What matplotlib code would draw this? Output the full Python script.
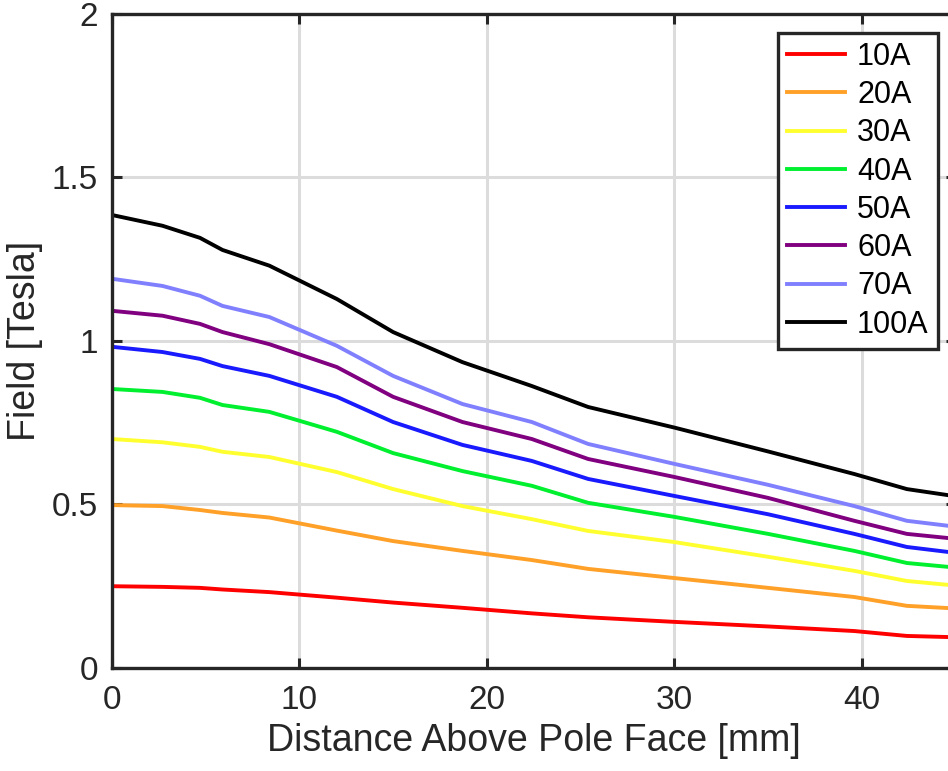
import matplotlib
matplotlib.use("Agg")
import matplotlib.pyplot as plt

plt.rcParams['font.family'] = ['Liberation Sans', 'DejaVu Sans']

# distance above pole face [mm]
distance = [0, 2.7, 4.7, 5.9, 8.4, 12, 15, 18.7, 22.4, 25.4, 30, 35, 39.6, 42.4, 45]

# field [Tesla] for each coil current
field_10A = [0.250, 0.248, 0.245, 0.240, 0.232, 0.215, 0.200, 0.184, 0.167, 0.155, 0.141, 0.127, 0.113, 0.098, 0.094]
field_20A = [0.498, 0.495, 0.483, 0.474, 0.460, 0.420, 0.388, 0.358, 0.330, 0.303, 0.275, 0.245, 0.217, 0.190, 0.182]
field_30A = [0.700, 0.690, 0.676, 0.661, 0.645, 0.599, 0.547, 0.495, 0.455, 0.419, 0.385, 0.340, 0.297, 0.266, 0.252]
field_40A = [0.853, 0.844, 0.826, 0.804, 0.783, 0.722, 0.657, 0.602, 0.557, 0.505, 0.462, 0.410, 0.358, 0.321, 0.307]
field_50A = [0.982, 0.966, 0.945, 0.923, 0.893, 0.829, 0.752, 0.682, 0.633, 0.578, 0.526, 0.470, 0.410, 0.370, 0.352]
field_60A = [1.092, 1.077, 1.052, 1.027, 0.990, 0.920, 0.829, 0.752, 0.700, 0.639, 0.584, 0.520, 0.450, 0.410, 0.395]
field_70A = [1.190, 1.168, 1.138, 1.107, 1.073, 0.985, 0.893, 0.807, 0.752, 0.685, 0.624, 0.560, 0.495, 0.450, 0.432]
field_100A = [1.385, 1.352, 1.315, 1.278, 1.230, 1.128, 1.027, 0.935, 0.862, 0.798, 0.735, 0.662, 0.593, 0.547, 0.525]

labels = ['10A', '20A', '30A', '40A', '50A', '60A', '70A', '100A']
series = [field_10A, field_20A, field_30A, field_40A, field_50A, field_60A, field_70A, field_100A]
colors = ['#ff0000', '#ffa028', '#ffff30', '#00f030', '#1a1aff', '#800080', '#8080ff', '#000000']

fig = plt.figure(figsize=(9.48, 7.71), dpi=100)
# axes run slightly past the right edge, as in the cropped original
ax = fig.add_axes([0.118, 0.1336, 0.890, 0.8485])

for y, lab, c in zip(series, labels, colors):
    ax.plot(distance, y, color=c, lw=2.8, label=lab)

ax.set_xlim(0, 45)
ax.set_ylim(0, 2)
ax.set_xticks([0, 10, 20, 30, 40])
ax.set_yticks([0, 0.5, 1, 1.5, 2])
ax.set_yticklabels(['0', '0.5', '1', '1.5', '2'])

ax.grid(True, color='#dcdcdc', lw=2.2)
ax.set_axisbelow(True)
for s in ax.spines.values():
    s.set_color('#262626')
    s.set_linewidth(2.4)
ax.tick_params(direction='in', length=7, width=2.2, color='#262626',
               labelsize=24, labelcolor='#262626', top=True, right=True, pad=10)
ax.tick_params(axis='x', pad=12)

ax.set_xlabel('Distance Above Pole Face [mm]', fontsize=27, color='#262626', labelpad=5)
ax.set_ylabel('Field [Tesla]', fontsize=27, color='#262626', labelpad=6)

leg = ax.legend(loc='upper right', bbox_to_anchor=(0.979, 0.971), fontsize=22,
                fancybox=False, framealpha=1, edgecolor='#262626',
                handlelength=1.9, labelspacing=0.27, borderpad=0.3,
                handletextpad=0.4, borderaxespad=0)
leg.get_frame().set_linewidth(2.4)

fig.savefig('out.png', dpi=100)
